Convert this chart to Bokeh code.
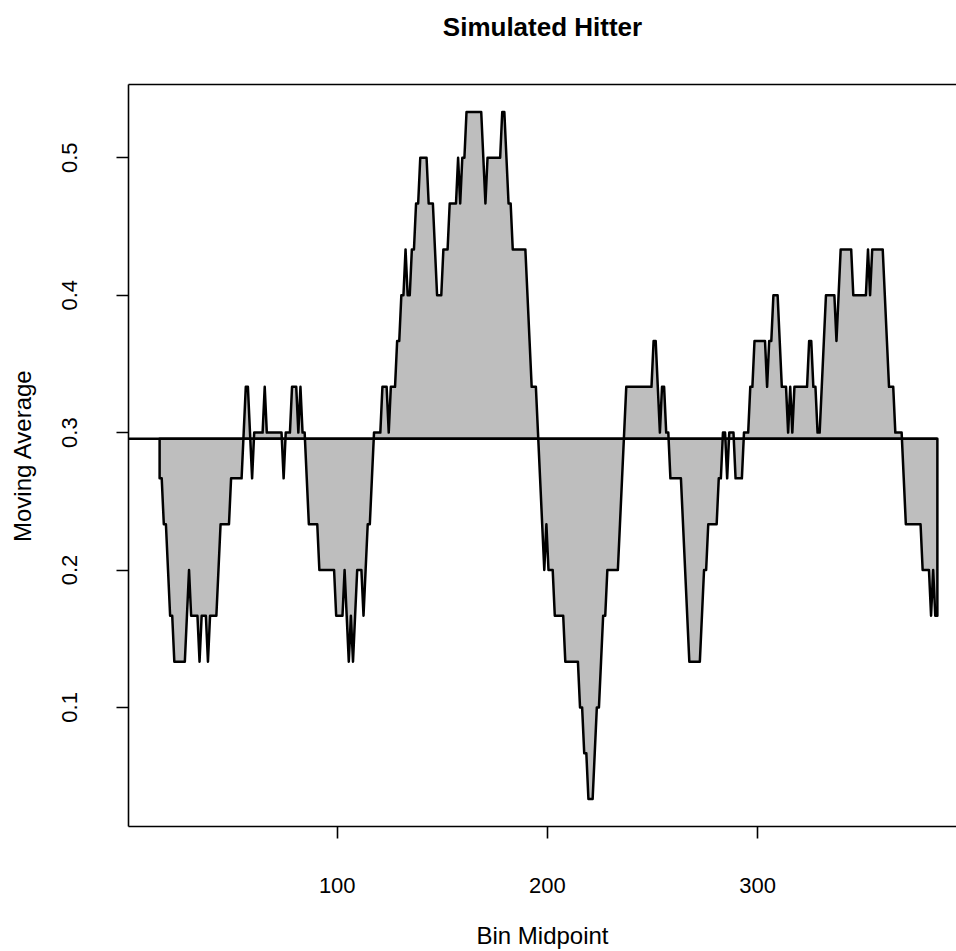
from bokeh.plotting import figure
from bokeh.models import Range1d, FixedTicker, LinearAxis
from bokeh.embed import file_html
from bokeh.resources import INLINE

# ---- data (bin midpoint, 30-bin moving average) ----
bin_mid = [15.5, 16.5, 17.5, 18.5, 19.5, 20.5, 21.5, 22.5, 27.5, 28.5, 29.5, 30.5, 33.5, 34.5, 35.5,
           37.5, 38.5, 39.5, 42.5, 43.5, 44.5, 48.5, 49.5, 54.5, 55.5, 56.5, 57.5, 59.5, 60.5, 64.5,
           65.5, 66.5, 73.5, 74.5, 75.5, 77.5, 78.5, 80.5, 81.5, 82.5, 83.5, 84.5, 85.5, 86.5, 90.5,
           91.5, 98.5, 99.5, 102.5, 103.5, 104.5, 105.5, 106.5, 107.5, 108.5, 109.5, 111.5, 112.5, 113.5,
           114.5, 115.5, 116.5, 117.5, 120.5, 121.5, 123.5, 124.5, 125.5, 127.5, 128.5, 129.5, 130.5,
           131.5, 132.5, 133.5, 134.5, 135.5, 136.5, 137.5, 138.5, 139.5, 142.5, 143.5, 145.5, 146.5,
           147.5, 149.5, 150.5, 152.5, 153.5, 156.5, 157.5, 158.5, 159.5, 160.5, 161.5, 168.5, 169.5,
           170.5, 171.5, 177.5, 178.5, 179.5, 180.5, 181.5, 182.5, 183.5, 189.5, 190.5, 191.5, 192.5,
           194.5, 195.5, 196.5, 197.5, 198.5, 199.5, 200.5, 202.5, 203.5, 207.5, 208.5, 214.5, 215.5,
           216.5, 217.5, 218.5, 219.5, 221.5, 222.5, 223.5, 224.5, 225.5, 226.5, 227.5, 228.5, 233.5,
           234.5, 235.5, 236.5, 237.5, 249.5, 250.5, 251.5, 252.5, 253.5, 254.5, 255.5, 256.5, 257.5,
           258.5, 263.5, 267.5, 272.5, 274.5, 275.5, 276.5, 280.5, 281.5, 282.5, 283.5, 284.5, 285.5,
           286.5, 288.5, 289.5, 292.5, 293.5, 295.5, 296.5, 297.5, 298.5, 303.5, 304.5, 305.5, 306.5,
           307.5, 309.5, 310.5, 311.5, 313.5, 314.5, 315.5, 316.5, 317.5, 323.5, 324.5, 325.5, 326.5,
           327.5, 328.5, 329.5, 330.5, 331.5, 332.5, 336.5, 337.5, 338.5, 339.5, 344.5, 345.5, 351.5,
           352.5, 353.5, 354.5, 359.5, 360.5, 361.5, 362.5, 364.5, 365.5, 368.5, 369.5, 370.5, 377.5,
           378.5, 381.5, 382.5, 383.5, 384.5, 385.5]
mov_avg = [0.2667, 0.2667, 0.2333, 0.2333, 0.2, 0.1667, 0.1667, 0.1333, 0.1333, 0.1667, 0.2, 0.1667, 0.1667, 0.1333, 0.1667,
           0.1667, 0.1333, 0.1667, 0.1667, 0.2, 0.2333, 0.2333, 0.2667, 0.2667, 0.3, 0.3333, 0.3333, 0.2667, 0.3, 0.3,
           0.3333, 0.3, 0.3, 0.2667, 0.3, 0.3, 0.3333, 0.3333, 0.3, 0.3333, 0.3, 0.3, 0.2667, 0.2333, 0.2333,
           0.2, 0.2, 0.1667, 0.1667, 0.2, 0.1667, 0.1333, 0.1667, 0.1333, 0.1667, 0.2, 0.2, 0.1667, 0.2,
           0.2333, 0.2333, 0.2667, 0.3, 0.3, 0.3333, 0.3333, 0.3, 0.3333, 0.3333, 0.3667, 0.3667, 0.4,
           0.4, 0.4333, 0.4, 0.4, 0.4333, 0.4333, 0.4667, 0.4667, 0.5, 0.5, 0.4667, 0.4667, 0.4333,
           0.4, 0.4, 0.4333, 0.4333, 0.4667, 0.4667, 0.5, 0.4667, 0.5, 0.5, 0.5333, 0.5333, 0.5,
           0.4667, 0.5, 0.5, 0.5333, 0.5333, 0.5, 0.4667, 0.4667, 0.4333, 0.4333, 0.4, 0.3667, 0.3333,
           0.3333, 0.3, 0.2667, 0.2333, 0.2, 0.2333, 0.2, 0.2, 0.1667, 0.1667, 0.1333, 0.1333, 0.1,
           0.1, 0.0667, 0.0667, 0.0333, 0.0333, 0.0667, 0.1, 0.1, 0.1333, 0.1667, 0.1667, 0.2, 0.2,
           0.2333, 0.2667, 0.3, 0.3333, 0.3333, 0.3667, 0.3667, 0.3333, 0.3, 0.3333, 0.3333, 0.3, 0.3,
           0.2667, 0.2667, 0.1333, 0.1333, 0.2, 0.2, 0.2333, 0.2333, 0.2667, 0.2667, 0.3, 0.3, 0.2667,
           0.3, 0.3, 0.2667, 0.2667, 0.3, 0.3, 0.3333, 0.3333, 0.3667, 0.3667, 0.3333, 0.3667, 0.3667,
           0.4, 0.4, 0.3667, 0.3333, 0.3333, 0.3, 0.3333, 0.3, 0.3333, 0.3333, 0.3667, 0.3667, 0.3333,
           0.3333, 0.3, 0.3, 0.3333, 0.3667, 0.4, 0.4, 0.3667, 0.4, 0.4333, 0.4333, 0.4, 0.4,
           0.4333, 0.4, 0.4333, 0.4333, 0.4, 0.3667, 0.3333, 0.3333, 0.3, 0.3, 0.2667, 0.2333, 0.2333,
           0.2, 0.2, 0.1667, 0.2, 0.1667, 0.1667]
overall_avg = 0.2955
x_ticks = [100, 200, 300]
y_ticks = [0.1, 0.2, 0.3, 0.4, 0.5]
title_text = "Simulated Hitter"
x_label = "Bin Midpoint"
y_label = "Moving Average"

FONT = "Liberation Sans"

p = figure(width=956, height=951, output_backend="svg", toolbar_location=None,
           x_range=Range1d(0.7, 394.6), y_range=Range1d(0.01333, 0.55333),
           x_axis_location=None, y_axis_location=None,
           min_border_left=128, min_border_right=0, min_border_top=84, min_border_bottom=124)
p.grid.visible = False
p.outline_line_color = None
p.background_fill_color = "white"
p.border_fill_color = "white"

# shaded area between the moving average and the overall average
poly_x = [bin_mid[0]] + bin_mid + [bin_mid[-1]]
poly_y = [overall_avg] + mov_avg + [overall_avg]
p.patch(poly_x, poly_y, fill_color="#bebebe", line_color="black", line_width=2.5, line_join="round")
p.line([0, bin_mid[-1]], [overall_avg, overall_avg], line_color="black", line_width=2.5)

def style_axis(ax, ticks):
    ax.ticker = FixedTicker(ticks=ticks)
    ax.axis_line_width = 1.6
    ax.axis_line_color = "black"
    ax.major_tick_line_width = 1.6
    ax.major_tick_in = 0
    ax.major_tick_out = 12
    ax.minor_tick_out = 0
    ax.minor_tick_in = 0
    ax.major_label_text_font = FONT
    ax.major_label_text_font_size = "22px"
    ax.major_label_text_color = "black"
    ax.axis_label_text_font = FONT
    ax.axis_label_text_font_size = "24px"
    ax.axis_label_text_font_style = "normal"
    ax.axis_label_text_color = "black"

xa = LinearAxis(axis_label=x_label)
style_axis(xa, x_ticks)
xa.major_label_standoff = 39
xa.axis_label_standoff = 26
p.add_layout(xa, "below")

ya = LinearAxis(axis_label=y_label)
style_axis(ya, y_ticks)
ya.major_label_orientation = "parallel"
ya.major_label_standoff = 39
ya.axis_label_standoff = 24
p.add_layout(ya, "left")

# top edge of the box, carrying the chart title as its label
top = LinearAxis(axis_label=title_text)
top.ticker = FixedTicker(ticks=[])
top.axis_line_width = 1.6
top.axis_line_color = "black"
top.major_tick_out = 0
top.major_tick_in = 0
top.minor_tick_out = 0
top.minor_tick_in = 0
top.major_label_standoff = 0
top.major_label_text_font_size = "0px"
top.axis_label_text_font = FONT
top.axis_label_text_font_size = "26px"
top.axis_label_text_font_style = "bold"
top.axis_label_text_color = "black"
top.axis_label_standoff = 43
p.add_layout(top, "above")

open("out.html", "w").write(file_html(p, INLINE))
